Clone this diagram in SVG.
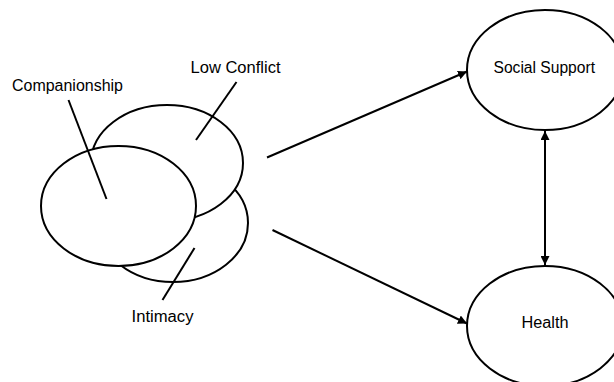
<svg xmlns="http://www.w3.org/2000/svg" width="614" height="382" viewBox="0 0 614 382">
<style>
.sh{fill:#fff;stroke:#000;stroke-width:2}
.ln{stroke:#000;stroke-width:2;fill:none}
.t{font-family:"Liberation Sans",Arial,sans-serif;font-size:16px;fill:#000}
</style>
<defs>
<marker id="ah" viewBox="0 0 10 10" refX="10" refY="5" markerWidth="4.5" markerHeight="4.5" orient="auto-start-reverse" markerUnits="strokeWidth">
<path d="M0,0 L10,5 L0,10 Z" fill="#000"/>
</marker>
</defs>
<rect width="614" height="382" fill="#fff"/>
<g id="intimacy">
<ellipse class="sh" cx="173" cy="223" rx="75" ry="59"/>
</g>
<g id="low-conflict">
<ellipse class="sh" cx="167" cy="163" rx="76" ry="58"/>
</g>
<g id="companionship">
<ellipse class="sh" cx="118.5" cy="206" rx="77.5" ry="60"/>
</g>
<g id="labels">
<text class="t" x="12" y="91" textLength="111" lengthAdjust="spacingAndGlyphs">Companionship</text>
<text class="t" x="190.5" y="73" textLength="90" lengthAdjust="spacingAndGlyphs">Low Conflict</text>
<text class="t" x="131.5" y="322" textLength="62" lengthAdjust="spacingAndGlyphs">Intimacy</text>
<line class="ln" x1="68.5" y1="100" x2="106.5" y2="199"/>
<line class="ln" x1="236.5" y1="82" x2="196" y2="140"/>
<line class="ln" x1="194.5" y1="248" x2="162.5" y2="300"/>
</g>
<g id="social-support">
<ellipse class="sh" cx="545" cy="70" rx="78" ry="60"/>
<text class="t" x="493.5" y="73" textLength="101.5" lengthAdjust="spacingAndGlyphs">Social Support</text>
</g>
<g id="health">
<ellipse class="sh" cx="545" cy="326" rx="78" ry="60"/>
<text class="t" x="521.5" y="328" textLength="47" lengthAdjust="spacingAndGlyphs">Health</text>
</g>
<g id="connectors">
<line class="ln" x1="267" y1="157.5" x2="467" y2="71.5" marker-end="url(#ah)"/>
<line class="ln" x1="272.5" y1="230" x2="467" y2="323.5" marker-end="url(#ah)"/>
<line class="ln" x1="545" y1="131" x2="545" y2="265" marker-start="url(#ah)" marker-end="url(#ah)"/>
</g>
</svg>
